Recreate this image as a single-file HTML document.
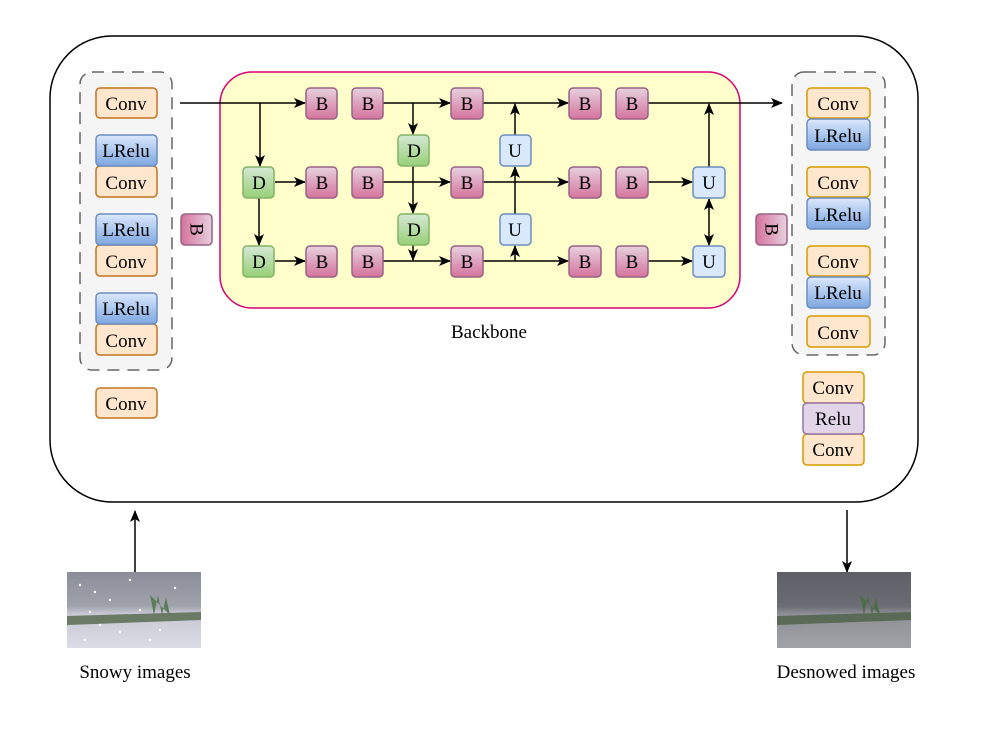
<!DOCTYPE html>
<html><head><meta charset="utf-8"><style>body{margin:0;background:#fff}svg{display:block}</style></head><body>
<svg width="996" height="732" viewBox="0 0 996 732" xmlns="http://www.w3.org/2000/svg" font-family="'Liberation Serif', serif">
<defs>
<linearGradient id="gB" x1="0" y1="0" x2="0" y2="1"><stop offset="0" stop-color="#e6d0de"/><stop offset="1" stop-color="#d5739d"/></linearGradient>
<linearGradient id="gBr" x1="1" y1="0" x2="0" y2="0"><stop offset="0" stop-color="#e6d0de"/><stop offset="1" stop-color="#d5739d"/></linearGradient>
<linearGradient id="gL" x1="0" y1="0" x2="0" y2="1"><stop offset="0" stop-color="#dae8fc"/><stop offset="1" stop-color="#7ea6e0"/></linearGradient>
<linearGradient id="gD" x1="0" y1="0" x2="0" y2="1"><stop offset="0" stop-color="#d5e8d4"/><stop offset="1" stop-color="#97d077"/></linearGradient>
<linearGradient id="sky" x1="0" y1="0" x2="0" y2="1"><stop offset="0" stop-color="#8a8c98"/><stop offset="0.45" stop-color="#a0a2ac"/><stop offset="0.55" stop-color="#c8c8d4"/><stop offset="1" stop-color="#dcdce6"/></linearGradient>
<linearGradient id="sky2" x1="0" y1="0" x2="0" y2="1"><stop offset="0" stop-color="#5e5f66"/><stop offset="0.45" stop-color="#6c6d74"/><stop offset="0.55" stop-color="#8e8f96"/><stop offset="1" stop-color="#a2a3a8"/></linearGradient>
<marker id="a" markerWidth="12" markerHeight="12" refX="11" refY="6" orient="auto" markerUnits="userSpaceOnUse"><path d="M0,1 L12,6 L0,11 L3,6 z" fill="#000"/></marker>
<marker id="as" markerWidth="12" markerHeight="12" refX="1" refY="6" orient="auto" markerUnits="userSpaceOnUse"><path d="M12,1 L0,6 L12,11 L9,6 z" fill="#000"/></marker>
</defs>
<rect x="50" y="36" width="868" height="466" rx="62" fill="none" stroke="#000" stroke-width="1.5"/>
<rect x="80" y="72" width="92" height="298" rx="12" fill="#f5f5f5" stroke="#666" stroke-width="1.5" stroke-dasharray="12,8"/>
<rect x="792" y="72" width="93" height="283" rx="12" fill="#f5f5f5" stroke="#666" stroke-width="1.5" stroke-dasharray="12,8"/>
<rect x="220" y="72" width="520" height="236" rx="32" fill="#ffffcc" stroke="#d80073" stroke-width="1.5"/>
<g font-size="19" text-anchor="middle">
<g stroke="#c27422" stroke-width="1.5" fill="#ffe6cc">
<rect x="96" y="88" width="61" height="30" rx="4"/><rect x="96" y="166" width="61" height="31" rx="4"/><rect x="96" y="245" width="61" height="31" rx="4"/><rect x="96" y="324" width="61" height="31" rx="4"/><rect x="96" y="388" width="61" height="30" rx="4"/></g>
<g stroke="#6c8ebf" stroke-width="1.5" fill="url(#gL)">
<rect x="96" y="135" width="61" height="31" rx="4"/><rect x="96" y="214" width="61" height="31" rx="4"/><rect x="96" y="293" width="61" height="31" rx="4"/></g>
<text x="126" y="110">Conv</text><text x="126" y="157">LRelu</text><text x="126" y="189">Conv</text><text x="126" y="236">LRelu</text><text x="126" y="268">Conv</text><text x="126" y="315">LRelu</text><text x="126" y="347">Conv</text><text x="126" y="410">Conv</text>
<g stroke="#d79b00" stroke-width="1.5" fill="#ffe6cc">
<rect x="807" y="88" width="63" height="30" rx="4"/><rect x="807" y="167" width="63" height="30" rx="4"/><rect x="807" y="246" width="63" height="30" rx="4"/><rect x="807" y="316" width="63" height="31" rx="4"/>
<rect x="803" y="372" width="61" height="31" rx="4"/><rect x="803" y="434" width="61" height="31" rx="4"/></g>
<g stroke="#6c8ebf" stroke-width="1.5" fill="url(#gL)">
<rect x="807" y="119" width="63" height="31" rx="4"/><rect x="807" y="198" width="63" height="31" rx="4"/><rect x="807" y="277" width="63" height="31" rx="4"/></g>
<rect x="803" y="403" width="61" height="31" rx="4" fill="#e1d5e7" stroke="#9673a6" stroke-width="1.5"/>
<text x="838" y="110">Conv</text><text x="838" y="142">LRelu</text><text x="838" y="189">Conv</text><text x="838" y="221">LRelu</text><text x="838" y="268">Conv</text><text x="838" y="299">LRelu</text><text x="838" y="339">Conv</text>
<text x="833" y="394">Conv</text><text x="833" y="425">Relu</text><text x="833" y="456">Conv</text>
<rect x="181" y="214" width="31" height="31" rx="4" fill="url(#gBr)" stroke="#996185" stroke-width="1.5"/>
<text transform="translate(196.5,229.5) rotate(90)" y="6">B</text>
<rect x="756" y="214" width="31" height="31" rx="4" fill="url(#gBr)" stroke="#996185" stroke-width="1.5"/>
<text transform="translate(771.5,229.5) rotate(90)" y="6">B</text>
<g stroke="#000" stroke-width="1.5" fill="none">
<path d="M180,103 L305,103" marker-end="url(#a)"/>
<path d="M260,103 L260,166" marker-end="url(#a)"/>
<path d="M259,198 L259,245" marker-end="url(#a)"/>
<path d="M275,182 L305,182" marker-end="url(#a)"/>
<path d="M275,261 L305,261" marker-end="url(#a)"/>
<path d="M383,103 L450,103" marker-end="url(#a)"/>
<path d="M413,103 L413,134" marker-end="url(#a)"/>
<path d="M413,166 L413,213" marker-end="url(#a)"/>
<path d="M413,245 L413,260" marker-end="url(#a)"/>
<path d="M383,182 L450,182" marker-end="url(#a)"/>
<path d="M383,261 L450,261" marker-end="url(#a)"/>
<path d="M483,103 L568,103" marker-end="url(#a)"/>
<path d="M483,182 L568,182" marker-end="url(#a)"/>
<path d="M483,261 L568,261" marker-end="url(#a)"/>
<path d="M515,135 L515,104" marker-end="url(#a)"/>
<path d="M515,214 L515,167" marker-end="url(#a)"/>
<path d="M515,261 L515,246" marker-end="url(#a)"/>
<path d="M648,103 L782,103" marker-end="url(#a)"/>
<path d="M648,182 L692,182" marker-end="url(#a)"/>
<path d="M648,261 L692,261" marker-end="url(#a)"/>
<path d="M709,167 L709,104" marker-end="url(#a)"/>
<path d="M709,199 L709,245" marker-start="url(#as)" marker-end="url(#a)"/>
<path d="M135,572 L135,511" marker-end="url(#a)"/>
<path d="M847,510 L847,572" marker-end="url(#a)"/>
</g>
<g stroke="#82b366" stroke-width="1.5" fill="url(#gD)">
<rect x="243" y="167" width="31" height="31" rx="4"/><rect x="243" y="246" width="31" height="31" rx="4"/>
<rect x="398" y="135" width="31" height="31" rx="4"/><rect x="398" y="214" width="31" height="31" rx="4"/></g>
<g stroke="#996185" stroke-width="1.5" fill="url(#gB)">
<rect x="306" y="88" width="31" height="31" rx="4"/><rect x="352" y="88" width="31" height="31" rx="4"/><rect x="451" y="88" width="32" height="31" rx="4"/><rect x="569" y="88" width="32" height="31" rx="4"/><rect x="616" y="88" width="32" height="31" rx="4"/>
<rect x="306" y="167" width="31" height="31" rx="4"/><rect x="352" y="167" width="31" height="31" rx="4"/><rect x="451" y="167" width="32" height="31" rx="4"/><rect x="569" y="167" width="32" height="31" rx="4"/><rect x="616" y="167" width="32" height="31" rx="4"/>
<rect x="306" y="246" width="31" height="31" rx="4"/><rect x="352" y="246" width="31" height="31" rx="4"/><rect x="451" y="246" width="32" height="31" rx="4"/><rect x="569" y="246" width="32" height="31" rx="4"/><rect x="616" y="246" width="32" height="31" rx="4"/></g>
<g stroke="#6c8ebf" stroke-width="1.5" fill="#dae8fc">
<rect x="500" y="135" width="31" height="31" rx="4"/><rect x="500" y="214" width="31" height="31" rx="4"/>
<rect x="693" y="167" width="32" height="31" rx="4"/><rect x="693" y="246" width="32" height="31" rx="4"/></g>
<g>
<text x="259" y="189">D</text><text x="259" y="268">D</text><text x="414" y="157">D</text><text x="414" y="236">D</text>
<text x="322" y="110">B</text><text x="368" y="110">B</text><text x="467" y="110">B</text><text x="585" y="110">B</text><text x="632" y="110">B</text>
<text x="322" y="189">B</text><text x="368" y="189">B</text><text x="467" y="189">B</text><text x="585" y="189">B</text><text x="632" y="189">B</text>
<text x="322" y="268">B</text><text x="368" y="268">B</text><text x="467" y="268">B</text><text x="585" y="268">B</text><text x="632" y="268">B</text>
<text x="515" y="157">U</text><text x="515" y="236">U</text><text x="709" y="189">U</text><text x="709" y="268">U</text>
</g>
<text x="489" y="338">Backbone</text>
<text x="135" y="678">Snowy images</text>
<text x="846" y="678">Desnowed images</text>
</g>
<rect x="67" y="572" width="134" height="76" fill="url(#sky)"/>
<path d="M67,616 L201,612 L201,620 L67,625 z" fill="#6a7a64"/>
<path d="M150,595 l4,20 l4,-20 l4,20 l4,-18 l4,18 z" fill="#5d7c5a"/>
<g fill="#fff"><circle cx="80" cy="585" r="1.2"/><circle cx="95" cy="592" r="1.2"/><circle cx="110" cy="600" r="1.2"/><circle cx="130" cy="580" r="1.2"/><circle cx="140" cy="610" r="1.2"/><circle cx="100" cy="625" r="1.2"/><circle cx="120" cy="632" r="1.2"/><circle cx="160" cy="630" r="1.2"/><circle cx="85" cy="640" r="1.2"/><circle cx="175" cy="588" r="1.2"/><circle cx="150" cy="640" r="1.2"/><circle cx="90" cy="612" r="1.2"/></g>
<rect x="777" y="572" width="134" height="76" fill="url(#sky2)"/>
<path d="M777,616 L911,612 L911,620 L777,625 z" fill="#5a6a56"/>
<path d="M860,595 l4,20 l4,-20 l4,20 l4,-18 l4,18 z" fill="#4d6c4a"/>
</svg>
</body></html>
